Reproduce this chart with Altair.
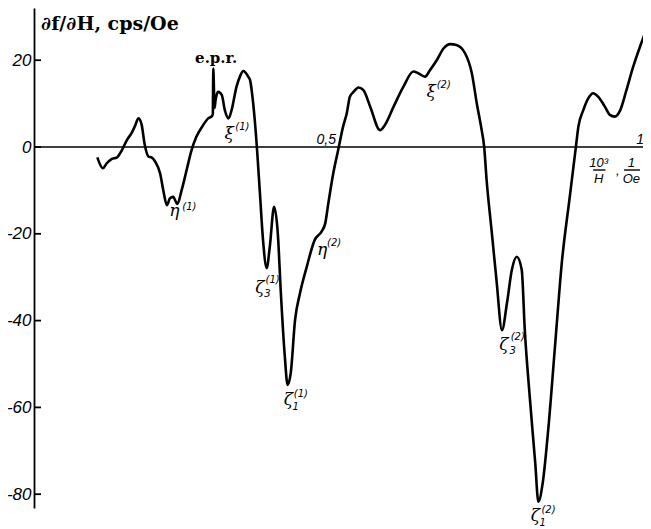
import altair as alt
import pandas as pd

# ---- curve: x = 10^3/H (1/Oe), y = df/dH (cps/Oe) ----
x_vals = [0.106, 0.115, 0.121, 0.129, 0.138, 0.146, 0.154, 0.162, 0.167, 0.173,
          0.178, 0.183, 0.189, 0.194, 0.200, 0.208, 0.213, 0.219, 0.224, 0.229,
          0.236, 0.243, 0.251, 0.259, 0.267, 0.278, 0.286, 0.292, 0.2935, 0.2943,
          0.2963, 0.298, 0.302, 0.308, 0.313, 0.319, 0.324, 0.332, 0.338, 0.343,
          0.351, 0.354, 0.359, 0.365, 0.370, 0.375, 0.381, 0.386, 0.393, 0.399,
          0.404, 0.410, 0.415, 0.420, 0.427, 0.435, 0.446, 0.459, 0.470, 0.476,
          0.481, 0.489, 0.497, 0.505, 0.511, 0.516, 0.522, 0.530, 0.538, 0.549,
          0.565, 0.573, 0.587, 0.603, 0.619, 0.627, 0.638, 0.646, 0.657, 0.668,
          0.679, 0.689, 0.703, 0.714, 0.722, 0.730, 0.734, 0.738, 0.746, 0.754,
          0.763, 0.771, 0.779, 0.787, 0.795, 0.800, 0.808, 0.817, 0.822, 0.829,
          0.838, 0.849, 0.860, 0.873, 0.883, 0.887, 0.895, 0.903, 0.911, 0.919,
          0.930, 0.938, 0.946, 0.955, 0.965, 0.976, 0.987, 0.995, 1.003]
y_vals = [-2.4, -4.9, -3.8, -2.8, -2.4, -0.7, 1.6, 3.3, 4.8, 6.6,
          5.1, 0.5, -2.2, -2.4, -3.4, -6.1, -9.9, -13.4, -11.8, -11.5,
          -13.1, -9.9, -5.3, -0.7, 2.4, 5.1, 6.6, 7.1, 7.6, 18.1,
          9.0, 10.8, 12.7, 12.0, 8.5, 6.6, 8.5, 13.9, 16.4, 17.5,
          16.2, 15.4, 10.1, 0.1, -10.7, -21.4, -27.9, -23.0, -13.8, -19.9,
          -33.7, -47.5, -54.8, -52.1, -39.9, -33.7, -27.6, -21.4, -19.5, -17.6,
          -13.0, -6.1, -0.7, 4.7, 7.8, 11.6, 12.7, 13.7, 13.1, 9.3,
          3.9, 5.1, 9.3, 13.9, 17.4, 17.0, 16.2, 17.7, 20.0, 22.7,
          23.7, 23.5, 21.6, 17.0, 10.1, 3.9, 0.1, -7.6, -19.1, -30.6,
          -42.2, -36.0, -28.3, -25.3, -28.3, -42.2, -57.5, -72.9, -81.7, -77.5,
          -65.2, -46.0, -26.8, -11.5, 0.1, 4.7, 8.5, 11.2, 12.4, 11.6,
          9.3, 7.4, 7.0, 8.5, 13.1, 18.5, 23.1, 26.2, 30.0]

y_ticks = [20, 0, -20, -40, -60, -80]
x_tick_text = ["0,5", "1"]
x_tick_pos = [0.5, 1.0]

# annotation anchors (data coordinates)
greek_text = ["ξ", "η", "ζ", "ζ", "η", "ξ", "ζ", "ζ"]
greek_x = [0.320, 0.231, 0.370, 0.416, 0.471, 0.648, 0.766, 0.817]
greek_y = [1.8, -15.9, -33.6, -59.4, -24.9, 11.5, -46.8, -86.2]
sup_text = ["(1)", "(1)", "(1)", "(1)", "(2)", "(2)", "(2)", "(2)"]
sup_x = [0.330, 0.244, 0.379, 0.425, 0.479, 0.657, 0.777, 0.827]
sup_y = [3.9, -14.5, -31.3, -57.6, -22.8, 13.6, -44.5, -84.4]
sub_text = ["3", "1", "3", "1"]
sub_x = [0.377, 0.423, 0.775, 0.824]
sub_y = [-34.6, -60.6, -47.7, -87.3]

frac_num_text = ["10³", "1"]
frac_den_text = ["H", "Oe"]
frac_cx = [0.920, 0.973]
frac_num_y = [-4.6, -4.6]
frac_den_y = [-8.3, -8.3]
comma_x = [0.951]
comma_y = [-6.4]
bar_x1 = [0.911, 0.961]
bar_x2 = [0.931, 0.987]
bar_y = [-5.3, -5.3]

title_text = "∂f/∂H, cps/Oe"
epr_text = "e.p.r."

W, H = 609, 500
xs = alt.Scale(domain=[0.0032, 0.9919], nice=False, zero=False)
ys = alt.Scale(domain=[-83.18, 32.03], nice=False, zero=False)

curve_df = pd.DataFrame({"x": x_vals, "y": y_vals})

y_axis = alt.Axis(values=y_ticks, tickSize=0, labelPadding=3, domainColor="black",
                  domainWidth=1.8, labelFont="Liberation Sans",
                  labelFontStyle="italic", labelFontSize=17, labelColor="black",
                  grid=False, title=None, labelExpr="'' + datum.value",
                  labelFlush=False)

zero_line = alt.Chart(pd.DataFrame({"y": [0]})).mark_rule(
    color="black", strokeWidth=1.6).encode(
    y=alt.Y("y:Q", scale=ys, axis=y_axis), x=alt.value(0), x2=alt.value(W))

curve = alt.Chart(curve_df).mark_line(
    color="black", strokeWidth=2.6, interpolate="monotone", clip=True,
    strokeJoin="round").encode(
    x=alt.X("x:Q", scale=xs, axis=None), y=alt.Y("y:Q", scale=ys))

ticks = alt.Chart(pd.DataFrame({"y": y_ticks})).mark_rule(
    color="black", strokeWidth=1.8).encode(
    y=alt.Y("y:Q", scale=ys), x=alt.value(0), x2=alt.value(7))

xtick_labels = alt.Chart(pd.DataFrame({"x": x_tick_pos, "t": x_tick_text})).mark_text(
    font="Liberation Sans", fontStyle="italic", fontSize=14, align="right",
    baseline="alphabetic", dx=-4, dy=-3, color="black").encode(
    x=alt.X("x:Q", scale=xs), y=alt.datum(0, scale=ys), text="t:N")

def texts(tx, xx, yy, **kw):
    return alt.Chart(pd.DataFrame({"x": xx, "y": yy, "t": tx})).mark_text(
        color="black", **kw).encode(
        x=alt.X("x:Q", scale=xs), y=alt.Y("y:Q", scale=ys), text="t:N")

greek = texts(greek_text, greek_x, greek_y, font="DejaVu Serif", fontStyle="italic",
              fontSize=17, align="center", baseline="alphabetic")
sups = texts(sup_text, sup_x, sup_y, font="DejaVu Sans", fontStyle="italic",
             fontSize=10, align="left", baseline="alphabetic")
subs = texts(sub_text, sub_x, sub_y, font="DejaVu Sans", fontStyle="italic",
             fontSize=10, align="left", baseline="alphabetic")
frac_num = texts(frac_num_text, frac_cx, frac_num_y, font="Liberation Sans",
                 fontStyle="italic", fontSize=13, align="center", baseline="alphabetic")
frac_den = texts(frac_den_text, frac_cx, frac_den_y, font="Liberation Sans",
                 fontStyle="italic", fontSize=13, align="center", baseline="alphabetic")
comma = texts([","], comma_x, comma_y, font="Liberation Sans",
              fontStyle="italic", fontSize=13, align="center", baseline="alphabetic")
bars = alt.Chart(pd.DataFrame({"x": bar_x1, "x2": bar_x2, "y": bar_y})).mark_rule(
    color="black", strokeWidth=1.4).encode(
    x=alt.X("x:Q", scale=xs), x2="x2:Q", y=alt.Y("y:Q", scale=ys))

title = texts([title_text], [0.0146], [27.0], font="DejaVu Serif", fontWeight="bold",
              fontSize=19, align="left", baseline="alphabetic")
epr = texts([epr_text], [0.299], [19.4], font="DejaVu Serif", fontWeight="bold",
            fontSize=15, align="center", baseline="alphabetic")

chart = alt.layer(zero_line, curve, ticks, xtick_labels, greek, sups, subs,
                  frac_num, frac_den, comma, bars, title, epr).properties(
    width=W, height=H,
    autosize=alt.AutoSizeParams(type="none"),
    padding={"left": 26, "top": 0, "right": 0, "bottom": 19},
    background="white",
).configure_view(stroke=None)

chart.save("out.html", embed_options={"renderer": "svg", "actions": False})
